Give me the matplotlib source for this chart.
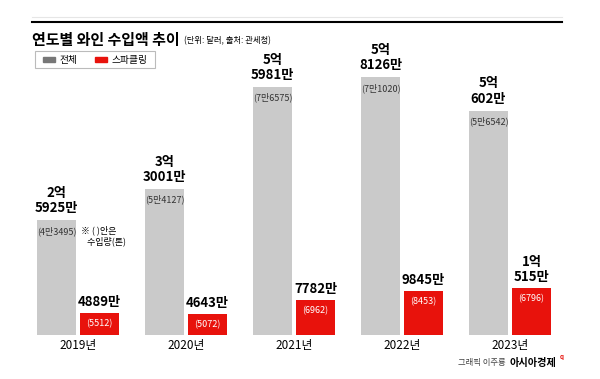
import numpy as np
import matplotlib.pyplot as plt

plt.rcParams['font.family'] = ['Noto Sans CJK KR', 'DejaVu Sans']

# values in 만 달러, volumes in 톤
years = ['2019년', '2020년', '2021년', '2022년', '2023년']
total = [25925, 33001, 55981, 58126, 50602]
total_labels = ['2억\n5925만', '3억\n3001만', '5억\n5981만', '5억\n8126만', '5억\n602만']
total_tons = ['(4만3495)', '(5만4127)', '(7만6575)', '(7만1020)', '(5만6542)']
sparkling = [4889, 4643, 7782, 9845, 10515]
sparkling_labels = ['4889만', '4643만', '7782만', '9845만', '1억\n515만']
sparkling_tons = ['(5512)', '(5072)', '(6962)', '(8453)', '(6796)']

GRAY = '#cacaca'
RED = '#e8120c'

W, H = 600, 379
fig = plt.figure(figsize=(W / 100, H / 100), dpi=100)
ax = fig.add_axes([0, 0, 1, 1])
ax.axis('off')

# map data to the picture: group spacing 108px, bar 39px, baseline 44px from bottom
px_per_unit = 108.0
px_per_val = 0.004436
x0 = 78.0
ax.set_xlim(-x0 / px_per_unit, (W - x0) / px_per_unit)
ax.set_ylim(-44 / px_per_val, (H - 44) / px_per_val)

x = np.arange(len(years))
off = 0.199
bw = 0.361
ax.bar(x - off, total, bw, color=GRAY)
ax.bar(x + off, sparkling, bw, color=RED)


def px2pt(p):
    return p * 0.72


for i in range(len(years)):
    ax.annotate(total_labels[i], (x[i] - off, total[i]), xytext=(0, px2pt(5)),
                textcoords='offset points', ha='center', va='bottom',
                fontsize=9.5, fontweight='bold', linespacing=1.1)
    ax.annotate(total_tons[i], (x[i] - off, total[i]), xytext=(0, px2pt(-6)),
                textcoords='offset points', ha='center', va='top',
                fontsize=6.5, color='#333333')
    ax.annotate(sparkling_labels[i], (x[i] + off, sparkling[i]),
                xytext=(0, px2pt(4)), textcoords='offset points',
                ha='center', va='bottom', fontsize=9.5, fontweight='bold',
                linespacing=1.1)
    ax.annotate(sparkling_tons[i], (x[i] + off, sparkling[i]),
                xytext=(0, px2pt(-6)), textcoords='offset points',
                ha='center', va='top', fontsize=6.5, color='white')
    ax.annotate(years[i], (x[i], 0), xytext=(0, px2pt(-4)),
                textcoords='offset points', ha='center', va='top',
                fontsize=8.5)

# note beside the 2019 bars
ax.annotate('※ ( )안은\n   수입량(톤)', (x[0] - off + bw / 2, total[0]),
            xytext=(px2pt(5), px2pt(-5)), textcoords='offset points',
            ha='left', va='top', fontsize=6.5, linespacing=1.2)


def fx(p):
    return p / W


def fy(p):
    return 1 - p / H


# top rule
fig.add_artist(plt.Line2D([fx(32), fx(562)], [fy(17), fy(17)],
                          color='#e6e6e6', lw=0.8))
fig.add_artist(plt.Line2D([fx(32), fx(562)], [fy(22), fy(22)],
                          color='black', lw=1.5))

# title
fig.text(fx(32), fy(40), '연도별 와인 수입액 추이', fontsize=10.8,
         fontweight='bold', va='center', ha='left')
fig.text(fx(184), fy(41), '(단위: 달러, 출처: 관세청)', fontsize=6,
         va='center', ha='left')

# legend box
fig.add_artist(plt.Rectangle((fx(35), fy(68)), fx(155) - fx(35),
                             fy(51) - fy(68), fill=False, ec='#bbbbbb',
                             lw=0.8))
fig.add_artist(plt.Rectangle((fx(43), fy(62)), fx(12), fy(57) - fy(62),
                             color='#777777'))
fig.text(fx(60), fy(59.5), '전체', fontsize=7, va='center', ha='left')
fig.add_artist(plt.Rectangle((fx(95), fy(62)), fx(12), fy(57) - fy(62),
                             color=RED))
fig.text(fx(112), fy(59.5), '스파클링', fontsize=7, va='center', ha='left')

# credit
fig.text(fx(506), fy(363), '그래픽 이주룡', fontsize=6, color='#444444',
         va='center', ha='right')
fig.text(fx(510), fy(363), '아시아경제', fontsize=7.3, fontweight='bold',
         va='center', ha='left')
fig.text(fx(560), fy(357), 'q', fontsize=4.5, color=RED, va='center',
         ha='left', fontweight='bold')

fig.savefig('out.png', dpi=100)
